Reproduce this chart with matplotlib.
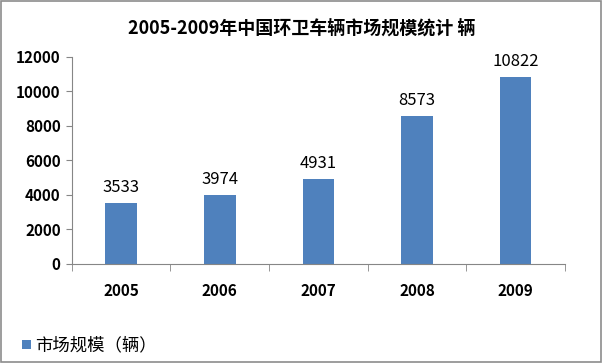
import matplotlib
matplotlib.use("Agg")
import matplotlib.pyplot as plt
from matplotlib.patches import Rectangle
import numpy as np

plt.rcParams['font.family'] = ['Noto Sans CJK SC', 'DejaVu Sans']

years = ["2005", "2006", "2007", "2008", "2009"]
sales = [3533, 3974, 4931, 8573, 10822]
yticks = [0, 2000, 4000, 6000, 8000, 10000, 12000]
title = "2005-2009年中国环卫车辆市场规模统计 辆"
legend_label = "市场规模（辆）"

BAR = "#4f81bd"
AXC = "#868686"

fig = plt.figure(figsize=(6.03, 3.63), dpi=100)
fig.patches.append(Rectangle((0.002, 0.003), 0.995, 0.994, transform=fig.transFigure,
                             fill=False, edgecolor="#8c8c8c", linewidth=1.2))
ax = fig.add_axes([0.119, 0.273, 0.818, 0.57])

x = np.arange(len(years))
bars = ax.bar(x, sales, width=0.32, color=BAR, zorder=2)
for xi, v in zip(x, sales):
    ax.text(xi, v + 400, str(v), ha="center", va="bottom", fontsize=12, color="black")

ax.set_xlim(-0.5, len(years) - 0.5)
ax.set_ylim(0, 12000)
ax.set_yticks(yticks)
ax.set_yticklabels([str(t) for t in yticks], fontsize=11, fontweight="bold")
ax.set_xticks(x)
ax.set_xticklabels(years, fontsize=11, fontweight="bold")
ax.tick_params(axis="x", length=0, pad=14)
ax.set_xticks(np.arange(-0.5, len(years)), minor=True)
ax.tick_params(axis="x", which="minor", length=5, color=AXC, direction="out")
ax.tick_params(axis="y", length=4, color=AXC, direction="out", pad=4)

for s in ["top", "right"]:
    ax.spines[s].set_visible(False)
for s in ["left", "bottom"]:
    ax.spines[s].set_color(AXC)

fig.text(0.5, 0.922, title, ha="center", va="center", fontsize=13, fontweight="bold")

fig.patches.append(Rectangle((0.037, 0.038), 0.014, 0.024, transform=fig.transFigure,
                             facecolor=BAR, edgecolor="none"))
fig.text(0.058, 0.049, legend_label, ha="left", va="center", fontsize=12.5)

fig.savefig("out.png", dpi=100)
